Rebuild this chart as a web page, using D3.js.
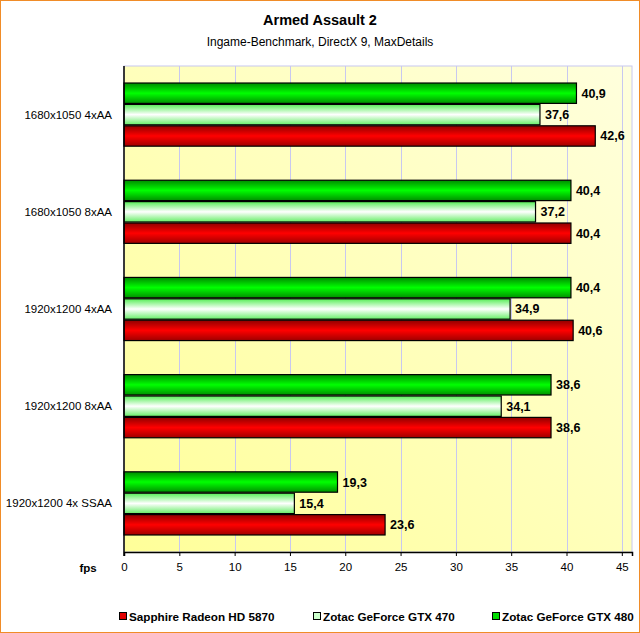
<!DOCTYPE html>
<html><head><meta charset="utf-8">
<script src="https://cdn.jsdelivr.net/npm/d3@7"></script>
<style>
body{margin:0;background:#fff;}
svg{display:block;font-family:"Liberation Sans",Arial,sans-serif;}
</style></head>
<body>
<svg id="chart" width="640" height="633"></svg>
<script>
const categories = ["1680x1050 4xAA","1680x1050 8xAA","1920x1200 4xAA","1920x1200 8xAA","1920x1200 4x SSAA"];
const seriesNames = ["Sapphire Radeon HD 5870","Zotac GeForce GTX 470","Zotac GeForce GTX 480"];
const radeon5870 = [42.6, 40.4, 40.6, 38.6, 23.6];
const gtx470 = [37.6, 37.2, 34.9, 34.1, 15.4];
const gtx480 = [40.9, 40.4, 40.4, 38.6, 19.3];
const xTicks = [0,5,10,15,20,25,30,35,40,45];
const title = "Armed Assault 2";
const subtitle = "Ingame-Benchmark, DirectX 9, MaxDetails";
const axisLabel = "fps";

const seriesValues = [radeon5870, gtx470, gtx480];
const svg = d3.select("#chart");
const W = 640, H = 633;
const m = {left:124, right:632, top:66, bottom:552};

const defs = svg.append("defs");
const bg = defs.append("linearGradient").attr("id","bg").attr("x1","0").attr("y1","1").attr("x2","1").attr("y2","0");
bg.append("stop").attr("offset","0").attr("stop-color","#ffff99");
bg.append("stop").attr("offset","1").attr("stop-color","#ffffdd");

const grads = [
  {id:"gRed", edge:"#8f0000", mid:"#ff0000", edge2:"#a00000"},
  {id:"gWhite", edge:"#55ee55", mid:"#ffffff", edge2:"#66ee66"},
  {id:"gGreen", edge:"#008a00", mid:"#00ff00", edge2:"#009000"}
];
grads.forEach(g=>{
  const lg = defs.append("linearGradient").attr("id",g.id).attr("x1","0").attr("y1","0").attr("x2","0").attr("y2","1");
  lg.append("stop").attr("offset","0").attr("stop-color",g.edge);
  lg.append("stop").attr("offset","0.5").attr("stop-color",g.mid);
  lg.append("stop").attr("offset","1").attr("stop-color",g.edge2);
});
const legendColors = ["#e00000","#ccffcc","#00dd00"];

svg.append("rect").attr("x",0.5).attr("y",0.5).attr("width",W-1).attr("height",H-1)
  .attr("fill","#fff").attr("stroke","#f08c28").attr("stroke-width",1);

svg.append("text").attr("x",320).attr("y",25).attr("text-anchor","middle")
  .attr("font-size","14.5px").attr("font-weight","bold").text(title);
svg.append("text").attr("x",320).attr("y",46).attr("text-anchor","middle")
  .attr("font-size","12px").text(subtitle);

const x = d3.scaleLinear().domain([0, 45.92]).range([m.left, m.right]);
const y = d3.scaleBand().domain(categories).range([m.top, m.bottom]).paddingInner(0.34).paddingOuter(0.17);
const ySub = d3.scaleBand().domain([2,1,0]).range([0, y.bandwidth()]);

svg.append("rect").attr("x",m.left).attr("y",m.top).attr("width",m.right-m.left).attr("height",m.bottom-m.top)
  .attr("fill","url(#bg)").attr("stroke","#c8c8f0").attr("stroke-width",1);

svg.append("g").selectAll("line").data(xTicks.filter(t=>t>0)).join("line")
  .attr("x1",d=>Math.round(x(d))+0.5).attr("x2",d=>Math.round(x(d))+0.5)
  .attr("y1",m.top).attr("y2",m.bottom).attr("stroke","#c8c8f0").attr("stroke-width",1);

const groups = svg.append("g").selectAll("g").data(categories).join("g")
  .attr("transform",d=>`translate(0,${y(d)})`);
groups.each(function(cat, ci){
  const g = d3.select(this);
  seriesValues.forEach((vals, si)=>{
    const v = vals[ci];
    const y0 = ySub(si);
    g.append("rect").attr("x",x(0)).attr("y",y0+0.5).attr("width",x(v)-x(0)).attr("height",ySub.bandwidth()-1)
      .attr("fill",`url(#${grads[si].id})`).attr("stroke","#000").attr("stroke-width",1.2);
    g.append("text").attr("x",x(v)+5).attr("y",y0+ySub.bandwidth()/2+4.5)
      .attr("font-size","12.5px").attr("font-weight","bold").text(d3.format(".1f")(v).replace(".",","));
  });
});

svg.append("g").selectAll("text").data(categories).join("text")
  .attr("x",112).attr("y",d=>y(d)+y.bandwidth()/2+4)
  .attr("text-anchor","end").attr("font-size","11.5px").text(d=>d);

const xAxis = svg.append("g").attr("transform",`translate(0,${m.bottom})`)
  .call(d3.axisBottom(x).tickValues(xTicks).tickSize(4).tickPadding(7).tickFormat(d3.format("d")));
xAxis.select(".domain").attr("stroke","#000").attr("stroke-width",1.5);
xAxis.selectAll(".tick line").attr("stroke","#000");
xAxis.selectAll("text").attr("font-size","11.5px").attr("font-family","\"Liberation Sans\",Arial,sans-serif").attr("fill","#000");
svg.append("line").attr("x1",m.left).attr("x2",m.left).attr("y1",m.top).attr("y2",m.bottom+4)
  .attr("stroke","#000").attr("stroke-width",1.5);

svg.append("text").attr("x",88).attr("y",572).attr("text-anchor","middle")
  .attr("font-size","11.5px").attr("font-weight","bold").text(axisLabel);

const legX = [119, 313, 492];
const leg = svg.append("g").selectAll("g").data(seriesNames).join("g")
  .attr("transform",(d,i)=>`translate(${legX[i]},617)`);
leg.append("rect").attr("x",0.5).attr("y",-4.5).attr("width",7).attr("height",7)
  .attr("fill",(d,i)=>legendColors[i]).attr("stroke","#000").attr("stroke-width",1);
leg.append("text").attr("x",10).attr("y",3.5).attr("font-size","11.7px").attr("font-weight","bold").text(d=>d);
</script>
</body></html>
